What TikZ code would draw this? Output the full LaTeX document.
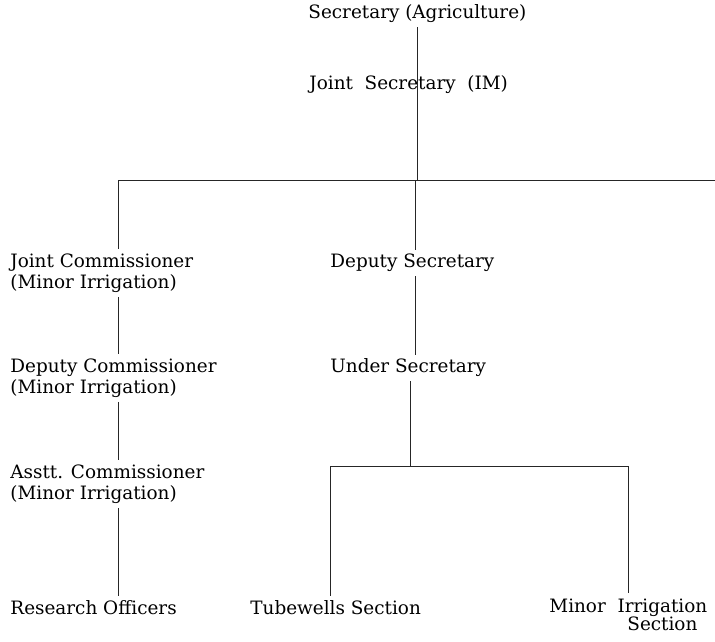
\documentclass[tikz,border=0pt]{standalone}
\usepackage{fontspec}
\setmainfont{DejaVu Serif}
\usepackage{tikz}
\tikzset{post/.style={anchor=west, inner sep=2pt, align=left, font=\fontsize{9.2}{10.5}\selectfont},
	link/.style={line width=0.5pt, draw=black!85}}

\begin{document}
\begin{tikzpicture}[x=0.5pt, y=-0.5pt]
				\useasboundingbox (0,0) rectangle (715,641);
				
				\node[post] (sec) at (304, 14) {Secretary (Agriculture)};
				\node[post] (jsec) at (305, 85) {Joint\ \ Secretary\ \ (IM)};
				
				\coordinate (top) at (417, 181);
				\coordinate (barL) at (118, 181);
				\coordinate (barR) at (715, 181);
				\coordinate (barM) at (415, 181);
				
				\node[post] (jc) at (6, 273) {Joint Commissioner\\(Minor Irrigation)};
				\node[post] (dc) at (6, 378) {Deputy Commissioner\\(Minor Irrigation)};
				\node[post] (ac) at (6, 484) {Asstt. Commissioner\\(Minor Irrigation)};
				\node[post] (ro) at (6, 608) {Research Officers};
				
				\node[post] (ds) at (326, 263) {Deputy Secretary};
				\node[post] (us) at (326, 368) {Under Secretary};
				
				\coordinate (secL) at (330, 466);
				\coordinate (secR) at (628, 466);
				\coordinate (secM) at (410, 466);
				
				\node[post] (tw) at (246, 608) {Tubewells Section};
				\node[post, anchor=base west] (mi) at (545, 612) {Minor\ \ \begin{tabular}[t]{@{}c@{}}Irrigation\\[-1.5pt]Section\end{tabular}};
				
				% top part
				\draw[link] (sec.south -| top) -- (top);
				\draw[link] (barL) -- (barR);
				
				% left column
				\draw[link] (barL) -- (jc.north -| barL);
				\draw[link] (jc.south -| barL) -- (dc.north -| barL);
				\draw[link] (dc.south -| barL) -- (ac.north -| barL);
				\draw[link] (ac.south -| barL) -- (ro.north -| barL);
				
				% middle column
				\draw[link] (barM) -- (ds.north -| barM);
				\draw[link] (ds.south -| barM) -- (us.north -| barM);
				\draw[link] (us.south -| secM) -- (secM);
				\draw[link] (secL) -- (secR);
				\draw[link] (secL) -- (tw.north -| secL);
				\draw[link] (secR) -- (mi.north -| secR);
\end{tikzpicture}
\end{document}
